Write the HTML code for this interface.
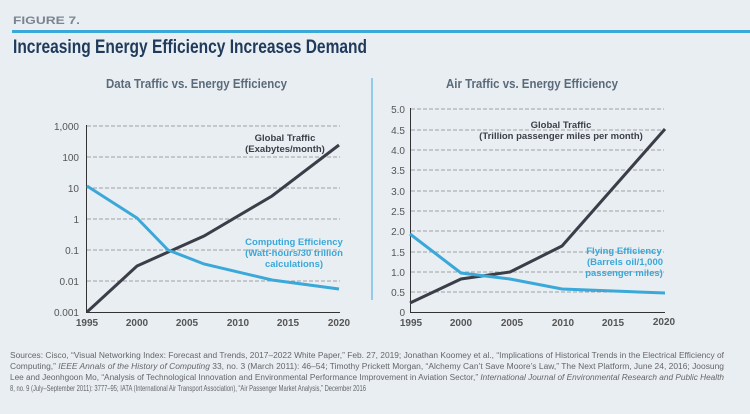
<!DOCTYPE html>
<html><head><meta charset="utf-8"><style>
html,body{margin:0;padding:0;background:#e9eef3;}
svg{display:block}
text{font-family:"Liberation Sans",sans-serif;}
</style></head><body>
<svg width="750" height="414" viewBox="0 0 750 414" xmlns="http://www.w3.org/2000/svg">
<rect width="750" height="414" fill="#e9eef3"/>
<text x="13" y="24" font-size="11" font-weight="bold" fill="#7b8590" textLength="67" lengthAdjust="spacingAndGlyphs">FIGURE 7.</text>
<rect x="12" y="30" width="738" height="3" fill="#3aa8d8"/>
<text x="13" y="53" font-size="19" font-weight="bold" fill="#1f3a5a" textLength="354" lengthAdjust="spacingAndGlyphs">Increasing Energy Efficiency Increases Demand</text>
<text x="106" y="88" font-size="13" fill="#5a6a7a" font-weight="bold" textLength="181" lengthAdjust="spacingAndGlyphs">Data Traffic vs. Energy Efficiency</text>
<text x="446" y="88" font-size="13" fill="#5a6a7a" font-weight="bold" textLength="172" lengthAdjust="spacingAndGlyphs">Air Traffic vs. Energy Efficiency</text>
<line x1="372" y1="78" x2="372" y2="300" stroke="#3aa8d8" stroke-width="1"/>

<!-- left chart -->
<g stroke="#888" stroke-width="0.8" stroke-dasharray="4,2">
<line x1="87" y1="126" x2="340" y2="126"/><line x1="87" y1="157" x2="340" y2="157"/>
<line x1="87" y1="188" x2="340" y2="188"/><line x1="87" y1="219" x2="340" y2="219"/>
<line x1="87" y1="250" x2="340" y2="250"/><line x1="87" y1="281" x2="340" y2="281"/>
</g>
<line x1="86.5" y1="125" x2="86.5" y2="313" stroke="#333" stroke-width="1"/>
<line x1="86" y1="312.5" x2="340" y2="312.5" stroke="#333" stroke-width="1"/>
<g font-size="10" fill="#555" text-anchor="end">
<text x="79" y="130">1,000</text><text x="79" y="161">100</text><text x="79" y="192">10</text>
<text x="79" y="223">1</text><text x="79" y="254">0.1</text><text x="79" y="285">0.01</text><text x="79" y="316">0.001</text>
</g>
<g font-size="10" fill="#555" font-weight="bold" text-anchor="middle">
<text x="87" y="326">1995</text><text x="137" y="326">2000</text><text x="187" y="326">2005</text>
<text x="238" y="326">2010</text><text x="288" y="326">2015</text><text x="339" y="326">2020</text>
</g>
<polyline points="87,312 137,266 204,236 272,196 339,145" fill="none" stroke="#3b3e48" stroke-width="3"/>
<polyline points="87,186 137,218 168,250 204,264 272,280 339,289" fill="none" stroke="#3aa8d8" stroke-width="3"/>
<g font-size="9.5" font-weight="bold" fill="#3b3e48" text-anchor="middle">
<text x="285" y="141">Global Traffic</text><text x="285" y="152">(Exabytes/month)</text></g>
<g font-size="9.5" font-weight="bold" fill="#3aa8d8" text-anchor="middle">
<text x="294" y="245">Computing Efficiency</text><text x="294" y="256">(Watt-hours/30 trillion</text><text x="294" y="267">calculations)</text></g>

<!-- right chart -->
<g stroke="#888" stroke-width="0.8" stroke-dasharray="4,2">
<line x1="411" y1="109" x2="664" y2="109"/><line x1="411" y1="130" x2="664" y2="130"/>
<line x1="411" y1="150" x2="664" y2="150"/><line x1="411" y1="170" x2="664" y2="170"/>
<line x1="411" y1="191" x2="664" y2="191"/><line x1="411" y1="211" x2="664" y2="211"/>
<line x1="411" y1="231" x2="664" y2="231"/><line x1="411" y1="252" x2="664" y2="252"/>
<line x1="411" y1="272" x2="664" y2="272"/><line x1="411" y1="292" x2="664" y2="292"/>
</g>
<line x1="410.5" y1="108" x2="410.5" y2="313" stroke="#333" stroke-width="1"/>
<line x1="410" y1="312.5" x2="665" y2="312.5" stroke="#333" stroke-width="1"/>
<g font-size="10" fill="#555" text-anchor="end">
<text x="405" y="113">5.0</text><text x="405" y="134">4.5</text><text x="405" y="154">4.0</text>
<text x="405" y="174">3.5</text><text x="405" y="195">3.0</text><text x="405" y="215">2.5</text>
<text x="405" y="235">2.0</text><text x="405" y="256">1.5</text><text x="405" y="276">1.0</text>
<text x="405" y="296">0.5</text><text x="405" y="316">0</text>
</g>
<g font-size="10" fill="#555" font-weight="bold" text-anchor="middle">
<text x="411" y="326">1995</text><text x="461" y="326">2000</text><text x="512" y="326">2005</text>
<text x="563" y="326">2010</text><text x="613" y="326">2015</text><text x="664" y="325">2020</text>
</g>
<polyline points="410,303 461,279 510,272 562,246 665,129" fill="none" stroke="#3b3e48" stroke-width="3"/>
<polyline points="410,234 461,273 510,279 562,289 665,293" fill="none" stroke="#3aa8d8" stroke-width="3"/>
<g font-size="9.5" font-weight="bold" fill="#3b3e48" text-anchor="middle">
<text x="561" y="128">Global Traffic</text><text x="561" y="139">(Trillion passenger miles per month)</text></g>
<g font-size="9.5" font-weight="bold" fill="#3aa8d8" text-anchor="middle">
<text x="624" y="254">Flying Efficiency</text><text x="625" y="265">(Barrels oil/1,000</text><text x="624" y="276">passenger miles)</text></g>

<!-- sources -->
<g font-size="8" fill="#666">
<text x="10" y="358" textLength="714" lengthAdjust="spacingAndGlyphs">Sources: Cisco, “Visual Networking Index: Forecast and Trends, 2017–2022 White Paper,” Feb. 27, 2019; Jonathan Koomey et al., “Implications of Historical Trends in the Electrical Efficiency of</text>
<text x="10" y="369" textLength="714" lengthAdjust="spacingAndGlyphs">Computing,” <tspan font-style="italic">IEEE Annals of the History of Computing</tspan> 33, no. 3 (March 2011): 46–54;  Timothy Prickett Morgan, “Alchemy Can’t Save Moore’s Law,” The Next Platform, June 24, 2016; Joosung</text>
<text x="10" y="380" textLength="714" lengthAdjust="spacingAndGlyphs">Lee and Jeonhgoon Mo, “Analysis of Technological Innovation and Environmental Performance Improvement in Aviation Sector,” <tspan font-style="italic">International Journal of Environmental Research and Public Health</tspan></text>
<text x="10" y="391" textLength="356" lengthAdjust="spacingAndGlyphs">8, no. 9 (July–September 2011): 3777–95; IATA (International Air Transport Association), “Air Passenger Market Analysis,” December 2016</text>
</g>
</svg>
</body></html>
